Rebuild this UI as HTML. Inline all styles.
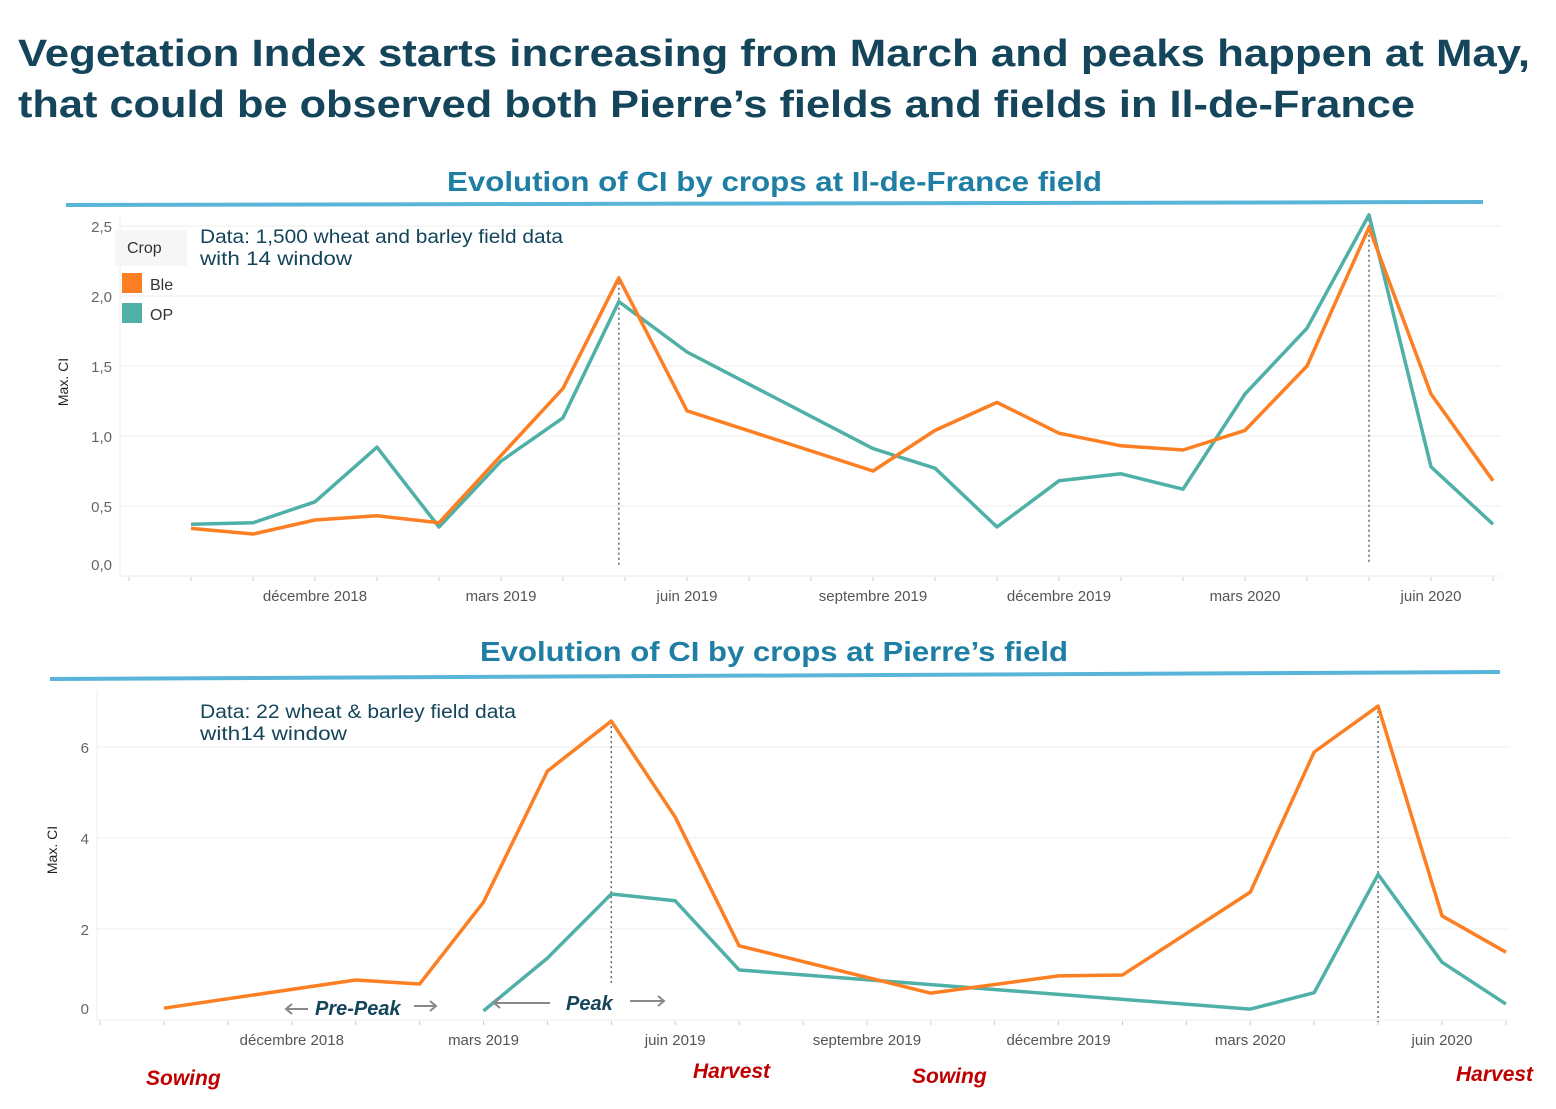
<!DOCTYPE html>
<html><head><meta charset="utf-8"><style>
body{margin:0;background:#fff;width:1556px;height:1104px;overflow:hidden;font-family:"Liberation Sans",sans-serif}
svg text{font-family:"Liberation Sans",sans-serif}
</style></head><body>
<svg id="s" width="1556" height="1104" viewBox="0 0 1556 1104">
<text x="18" y="66" font-size="38" font-weight="bold" fill="#14455b" textLength="1512" lengthAdjust="spacingAndGlyphs">Vegetation Index starts increasing from March and peaks happen at May,</text>
<text x="18" y="117" font-size="38" font-weight="bold" fill="#14455b" textLength="1397" lengthAdjust="spacingAndGlyphs">that could be observed both Pierre’s fields and fields in Il-de-France</text>
<text x="447" y="191" font-size="28" font-weight="bold" fill="#1f7ea3" textLength="655" lengthAdjust="spacingAndGlyphs">Evolution of CI by crops at Il-de-France field</text>
<line x1="66" y1="205" x2="1483" y2="202" stroke="#58b4d8" stroke-width="4"/>
<text x="480" y="661" font-size="28" font-weight="bold" fill="#1f7ea3" textLength="588" lengthAdjust="spacingAndGlyphs">Evolution of CI by crops at Pierre’s field</text>
<line x1="50" y1="679" x2="1500" y2="672" stroke="#58b4d8" stroke-width="4"/>
<g id="top"></g>
<g id="bot"></g>
</svg>
<script>
// ---- Top chart data (month index from Oct 2018) ----
const topMonths=[0,1,2,3,4,5,6,6.9,8,11,12,13,14,15,16,17,18,19,20,21];
const topBle=[0.34,0.30,0.40,0.43,0.38,0.86,1.34,2.13,1.18,0.75,1.04,1.24,1.02,0.93,0.90,1.04,1.50,2.49,1.30,0.68];
const topOP=[0.37,0.38,0.53,0.92,0.35,0.82,1.13,1.96,1.60,0.91,0.77,0.35,0.68,0.73,0.62,1.30,1.77,2.58,0.78,0.37];
const topYTicks=[0,0.5,1,1.5,2,2.5];
const topYLabels=["0,0","0,5","1,0","1,5","2,0","2,5"];
// ---- Bottom chart data ----
const botBleMonths=[0,3,4,5,6,7,8,9,12,14,15,17,18,19,20,21];
const botBle=[0.26,0.88,0.79,2.59,5.47,6.57,4.46,1.63,0.59,0.97,0.99,2.81,5.89,6.90,2.29,1.49];
const botOPMonths=[5,6,7,8,9,17,18,19,20,21];
const botOP=[0.2,1.36,2.77,2.62,1.1,0.24,0.6,3.2,1.27,0.35];
const botYTicks=[0,2,4,6];
const botYLabels=["0","2","4","6"];
// shared x ticks
const xTickMonths=[2,5,8,11,14,17,20];
const xTickLabels=["décembre 2018","mars 2019","juin 2019","septembre 2019","décembre 2019","mars 2020","juin 2020"];
const peakMonths=[6.9,19];

const NS="http://www.w3.org/2000/svg";
function mk(p,t,a){const e=document.createElementNS(NS,t);for(const k in a)e.setAttribute(k,a[k]);p.appendChild(e);return e;}

function chart(g,cfg){
  const X=m=>cfg.x0+cfg.dx*m, Y=v=>cfg.y0-cfg.ky*v;
  cfg.yt.forEach((v,i)=>{
    const l=mk(g,'line',{x1:cfg.left,x2:cfg.right,y1:Y(v),y2:Y(v),stroke:'#ececec','stroke-width':1});
    
    
    const t=mk(g,'text',{x:cfg.left-8,y:(v==0?Y(v)-6:Y(v)+6),'font-size':15,fill:'#666','text-anchor':'end'});
    t.textContent=cfg.yl[i];
    
    
  });
  const ax=mk(g,'line',{x1:cfg.left,x2:cfg.left,y1:cfg.top,y2:cfg.y0,stroke:'#eee'});
  
  
  for(let m=-1;m<=21;m++){
    const tk=mk(g,'line',{x1:X(m),x2:X(m),y1:cfg.y0+1,y2:cfg.y0+5,stroke:'#ccc'});
    
    
  }
  xTickMonths.forEach((m,i)=>{
    const t=mk(g,'text',{x:X(m),y:cfg.y0+25,'font-size':15,fill:'#555','text-anchor':'middle'});
    t.textContent=xTickLabels[i];
    
    
  });
  const yt=mk(g,'text',{transform:`translate(${cfg.ytx},${cfg.yty}) rotate(-90)`,'font-size':14,fill:'#222','text-anchor':'middle'});
  yt.textContent='Max. CI';
  
  
  cfg.peaks.forEach((p,i)=>{
    const l=mk(g,'line',{x1:X(p[0]),x2:X(p[0]),y1:Y(p[1]),y2:p[2],stroke:'#666','stroke-dasharray':'2,3','stroke-width':1.5});
    
    
  });
  cfg.series.forEach(s=>{
    const d=s.m.map((m,i)=>(i?'L':'M')+X(m)+','+Y(s.v[i])).join('');
    const p=mk(g,'path',{d:d,fill:'none',stroke:s.c,'stroke-width':3.5,'stroke-linejoin':'round'});
    
    
  });
}
chart(document.getElementById('top'),{x0:191,dx:62,y0:576,ky:140,left:120,right:1500,top:215,ytx:68,yty:382,
  yt:topYTicks,yl:topYLabels,peaks:[[peakMonths[0],2.13,566],[peakMonths[1],2.58,562]],
  series:[{m:topMonths,v:topOP,c:'#4fb0a8',n:'op-line'},{m:topMonths,v:topBle,c:'#fd7f23',n:'ble-line'}]});
chart(document.getElementById('bot'),{x0:164,dx:63.9,y0:1020,ky:45.5,left:97,right:1510,top:690,ytx:57,yty:850,
  yt:botYTicks,yl:botYLabels,peaks:[[7,6.57,983],[19,6.9,1022]],
  series:[{m:botOPMonths,v:botOP,c:'#4fb0a8',n:'op-line'},{m:botBleMonths,v:botBle,c:'#fd7f23',n:'ble-line'}]});
</script>
<svg style="position:absolute;left:0;top:0" width="1556" height="1104">
<rect x="115" y="230" width="72" height="36" fill="#f6f6f6"/>
<text x="127" y="253" font-size="16" fill="#333">Crop</text>
<rect x="122" y="273" width="20" height="20" fill="#fd7f23"/>
<text x="150" y="290" font-size="16" fill="#333">Ble</text>
<rect x="122" y="303" width="20" height="20" fill="#4fb0a8"/>
<text x="150" y="320" font-size="16" fill="#333">OP</text>
<text x="200" y="243" font-size="19" fill="#14455b" textLength="363" lengthAdjust="spacingAndGlyphs">Data: 1,500 wheat and barley field data</text>
<text x="200" y="265" font-size="19" fill="#14455b" textLength="152" lengthAdjust="spacingAndGlyphs">with 14  window</text>
<text x="200" y="718" font-size="19" fill="#14455b" textLength="316" lengthAdjust="spacingAndGlyphs">Data: 22 wheat &amp; barley field data</text>
<text x="200" y="740" font-size="19" fill="#14455b" textLength="147" lengthAdjust="spacingAndGlyphs">with14  window</text>
<g fill="none" stroke="#888" stroke-width="2">
<path d="M308,1009 H286 M292,1004 L286,1009 L292,1014"/>
<path d="M414,1006 H436 M430,1001 L436,1006 L430,1011"/>
<path d="M550,1003 H494 M500,998 L494,1003 L500,1008"/>
<path d="M630,1001 H664 M658,996 L664,1001 L658,1006"/>
</g>
<text x="315" y="1015" font-size="20" font-weight="bold" font-style="italic" fill="#14455b">Pre-Peak</text>
<text x="566" y="1010" font-size="20" font-weight="bold" font-style="italic" fill="#14455b">Peak</text>
<g font-size="21" font-weight="bold" font-style="italic" fill="#c00000">
<text x="146" y="1085">Sowing</text>
<text x="693" y="1078">Harvest</text>
<text x="912" y="1083">Sowing</text>
<text x="1456" y="1081">Harvest</text>
</g>
</svg>
</body></html>
